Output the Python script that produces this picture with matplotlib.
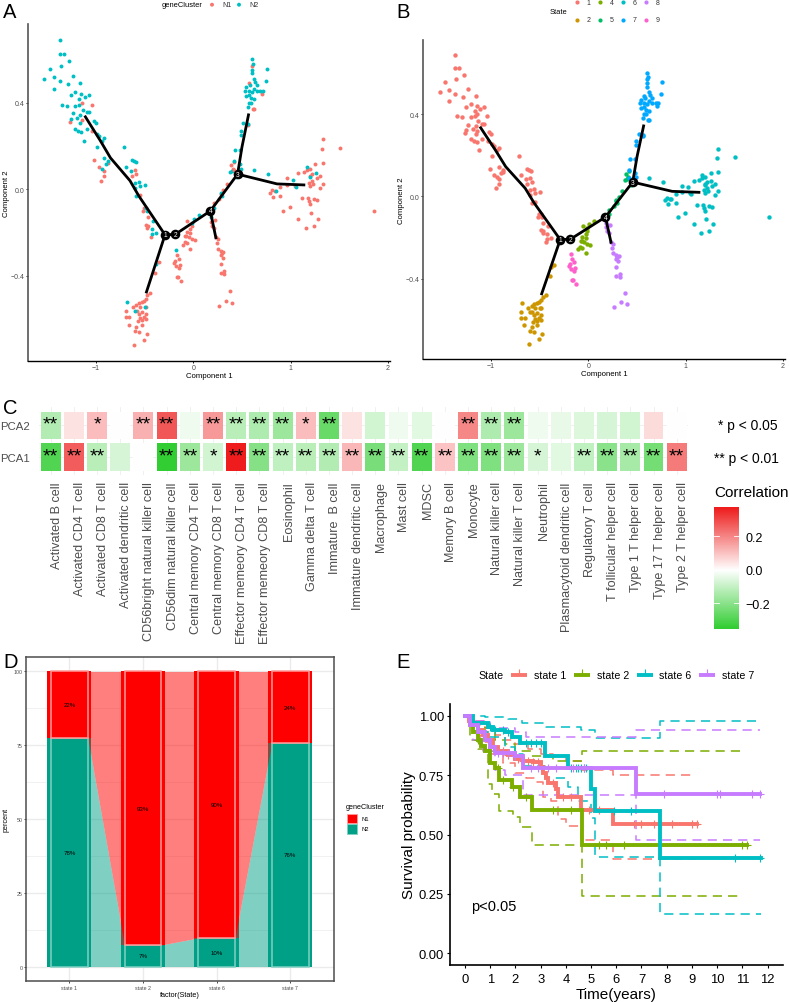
import numpy as np
import matplotlib
matplotlib.use("Agg")
import matplotlib.pyplot as plt
from matplotlib.colors import LinearSegmentedColormap, TwoSlopeNorm

plt.rcParams["font.family"] = ["Liberation Sans", "DejaVu Sans"]

W, H = 790, 1003

# ---- trajectory cells, (component 1, component 2), split by state and gene cluster
state1_n1 = [(-1.27,.31),(-1.14,.40),(-1.04,.39),(-1.14,.32),(-1.035,.27),(-1.015,.135),(-.97,.105),(-.875,.12),
             (-.915,.085),(-.92,.06),(-.95,.04),(-.60,.09),(-.63,.06),(-.585,.07),(-.545,-.025),(-.52,-.10),
             (-.465,-.13),(-.49,-.165),(-.465,-.17),(-.435,-.22),(-.51,-.085),(-.47,-.18)]
state1_n2 = [(-1.37,.69),(-1.37,.625),(-1.33,.625),(-1.28,.59),(-1.36,.57),(-1.47,.555),(-1.53,.51),(-1.43,.52),
             (-1.37,.50),(-1.24,.525),(-1.29,.485),(-1.43,.465),(-1.16,.49),(-1.21,.45),(-1.26,.435),(-1.17,.415),
             (-1.15,.44),(-1.11,.425),(-1.07,.435),(-1.35,.39),(-1.30,.385),(-1.21,.385),(-1.17,.39),(-1.13,.365),
             (-1.24,.35),(-1.16,.345),(-1.09,.355),(-1.07,.355),(-1.26,.325),(-1.19,.33),(-1.02,.315),(-1.0,.305),
             (-1.21,.28),(-1.16,.305),(-1.18,.27),(-1.15,.265),(-1.09,.28),(-1.12,.225),(-.99,.255),(-.97,.245),
             (-.92,.235),(-.94,.225),(-.99,.195),(-.71,.195),(-.92,.145),(-.88,.13),(-.90,.115),(-.94,.095),
             (-.69,.105),(-.63,.135),(-.61,.13),(-.59,.125),(-.64,.085),(-.56,.035),(-.60,.03),(-.50,.02),
             (-.545,.015),(-.60,.005),(-.585,-.03),(-.49,-.085),(-.475,-.10),(-.415,-.145),(-.425,-.185),
             (-.38,-.20),(-.425,-.205)]
state2_n1 = [(-.355,-.335),(-.39,-.385),(-.44,-.48),(-.47,-.49),(-.49,-.505),(-.51,-.515),(-.53,-.52),(-.56,-.525),
             (-.585,-.535),(-.49,-.545),(-.55,-.545),(-.62,-.545),(-.69,-.56),(-.58,-.56),(-.53,-.565),(-.49,-.575),
             (-.56,-.575),(-.69,-.59),(-.655,-.59),(-.51,-.59),(-.545,-.595),(-.485,-.60),(-.53,-.605),(-.57,-.61),
             (-.665,-.625),(-.53,-.625),(-.585,-.635),(-.60,-.655),(-.56,-.66),(-.48,-.67),(-.51,-.695),(-.61,-.72)]
state2_n2 = [(-.685,-.52),(-.60,-.56),(-.50,-.545),(-.385,-.345)]
state4_n1 = [(-.06,-.145),(-.015,-.17),(-.03,-.185),(-.065,-.195),(-.03,-.20),(-.07,-.215),(-.045,-.22),(-.015,-.23),
             (.02,-.235),(-.09,-.245),(-.065,-.25),(-.105,-.255),(-.03,-.275),(-.08,-.215)]
state4_n2 = [(.01,-.135),(.055,-.12),(-.015,-.155)]
state5_n1 = [(.345,.025),(.31,-.002),(.285,-.02),(.26,-.045),(.21,-.065),(.385,.11),(.415,.125),(.405,.095)]
state5_n2 = [(.38,.08),(.40,.085),(.295,-.03),(.21,-.085),(.28,-.015),(.44,.055)]
state6_n1 = [(1.33,.23),(1.505,.19),(1.325,.185),(1.255,.115),(1.33,.12),(1.17,.09),(1.2,.095),(1.08,.075),(1.14,.08),
             (1.22,.07),(1.305,.06),(1.27,.05),(.96,.05),(1.2,.06),(1.22,.04),(1.185,.03),(1.23,.025),(1.2,.015),
             (1.33,.025),(1.305,.005),(.96,.02),(.895,.01),(1.04,.015),(.81,-.005),(.84,-.01),(.79,-.015),(.82,-.035),
             (.895,-.03),(1.115,-.04),(1.175,-.04),(1.24,-.045),(1.27,-.05),(1.185,-.055),(1.2,-.07),(.99,-.08),
             (.92,-.10),(1.21,-.11),(1.08,-.135),(1.285,-.135),(1.235,-.17),(1.16,-.18),(1.86,-.10)]
state6_n2 = [(.625,.09),(.765,.07),(1.17,.105),(1.02,.045),(1.2,.055),(1.26,.075),(1.055,.01),(.85,-.01)]
state7_n1 = [(.60,.57),(.57,.49),(.705,.44),(.615,.37),(.625,.37),(.56,.295),(.415,.09)]
state7_n2 = [(.60,.60),(.615,.58),(.60,.55),(.60,.535),(.755,.555),(.62,.51),(.635,.495),(.75,.50),(.58,.48),(.655,.48),
             (.62,.465),(.54,.47),(.535,.455),(.57,.455),(.60,.45),(.655,.455),(.69,.455),(.715,.455),(.575,.435),
             (.545,.43),(.595,.42),(.62,.415),(.57,.40),(.595,.40),(.565,.38),(.515,.305),(.56,.30),(.485,.27),
             (.485,.25),(.43,.18),(.475,.18),(.42,.13),(.475,.115),(.485,.095)]
state8_n1 = [(.18,-.15),(.225,-.14),(.19,-.17),(.21,-.18),(.235,-.22),(.25,-.23),(.245,-.25),(.25,-.275),(.28,-.285),
             (.295,-.295),(.31,-.29),(.28,-.305),(.305,-.315),(.285,-.345),(.28,-.385),(.32,-.375),(.32,-.39),
             (.38,-.47),(.335,-.515),(.40,-.525),(.265,-.54)]
state8_n2 = [(.18,-.13)]
state9_n1 = [(-.17,-.305),(-.15,-.32),(-.185,-.33),(-.195,-.34),(-.135,-.35),(-.175,-.355),(-.15,-.365),(-.17,-.405),
             (-.16,-.405),(-.125,-.425)]
state9_n2 = [(-.18,-.28)]

states = ["1", "2", "4", "5", "6", "7", "8", "9"]
state_colors = ["#F8766D", "#CD9600", "#7CAE00", "#00BE67", "#00BFC4", "#00A9FF", "#C77CFF", "#FF61CC"]
n1_cells = [state1_n1, state2_n1, state4_n1, state5_n1, state6_n1, state7_n1, state8_n1, state9_n1]
n2_cells = [state1_n2, state2_n2, state4_n2, state5_n2, state6_n2, state7_n2, state8_n2, state9_n2]

# trajectory backbone
branches = [
    [(-1.115,.34),(-.955,.225),(-.85,.145),(-.65,.04),(-.56,-.03),(-.29,-.21)],
    [(-.29,-.21),(-.485,-.48)],
    [(-.29,-.21),(-.185,-.208),(.175,-.10),(.455,.07),(.5,.195),(.57,.35)],
    [(.455,.07),(.86,.025),(1.15,.02)],
    [(.175,-.10),(.235,-.23)],
]
node_labels = ["1", "2", "3", "4"]
node_x = [-.29, -.185, .455, .175]
node_y = [-.21, -.208, .07, -.10]

# ---- heatmap
cells = ["Activated B cell", "Activated CD4 T cell", "Activated CD8 T cell", "Activated dendritic cell",
         "CD56bright natural killer cell", "CD56dim natural killer cell", "Central memory CD4 T cell",
         "Central memory CD8 T cell", "Effector memeory CD4 T cell", "Effector memeory CD8 T cell", "Eosinophil",
         "Gamma delta T cell", "Immature  B cell", "Immature dendritic cell", "Macrophage", "Mast cell", "MDSC",
         "Memory B cell", "Monocyte", "Natural killer cell", "Natural killer T cell", "Neutrophil",
         "Plasmacytoid dendritic cell", "Regulatory T cell", "T follicular helper cell", "Type 1 T helper cell",
         "Type 17 T helper cell", "Type 2 T helper cell"]
pca1 = [-.30, .27, -.12, -.07, 0, -.354, -.17, -.08, .378, -.21, -.11, -.12, -.13, .12, -.23, -.10, -.30, .10,
        -.22, -.22, -.17, -.07, -.05, -.11, -.20, -.15, -.24, .22]
pca2 = [-.13, .05, .11, 0, .13, .28, -.03, .17, -.12, -.14, -.17, .11, -.26, .05, -.08, -.025, -.05, 0,
        .20, -.14, -.17, -.03, -.04, -.06, -.07, -.08, .06, 0]
pca1_stars = ["**","**","**","","","**","**","*","**","**","**","**","**","**","**","**","**","**","**","**","**",
              "*","","**","**","**","**","**"]
pca2_stars = ["**","","*","","**","**","","**","**","**","**","*","**","","","","","","**","**","**","","","","","",
              "",""]

# ---- stacked bars
bar_states = ["state 1", "state 2", "state 6", "state 7"]
n2_pct = [77.4, 7.3, 9.7, 75.7]
n1_labels = ["22%", "93%", "90%", "24%"]
n2_labels = ["78%", "7%", "10%", "76%"]

# ---- survival curves, step times and survival after each step
s1_t = [0,.15,.3,.5,.7,.9,1.1,1.3,1.7,2.0,2.3,2.7,3.0,3.1,3.2,3.3,3.6,3.7,4.6,5.85,9.2]
s1_s = [1,.98,.96,.94,.92,.90,.87,.85,.835,.82,.81,.805,.785,.76,.74,.715,.69,.66,.605,.545,.545]
s1_up_t = [0,.4,.8,1.2,1.6,2,2.5,3,3.5,4,4.6,5.85,9.15]
s1_up_s = [1,.98,.95,.92,.90,.88,.86,.84,.83,.81,.77,.75,.75]
s1_lo_t = [0,.3,.6,1,1.5,2,2.4,2.8,3.1,3.4,3.7,4.0,4.6,5.85,9.15]
s1_lo_s = [1,.92,.89,.84,.80,.76,.74,.72,.66,.64,.565,.535,.475,.395,.395]
s1_cens = [.5,.7,.9,1.1,1.3,1.5,1.7,1.9,2.1,2.3,2.5,2.7,2.9,3.0,3.5,3.9,4.2,4.9,5.3,6.7,7.0,7.5,8.2,9.0,9.2]

s2_t = [0,.2,.3,.5,.65,.8,1.0,1.2,1.35,1.85,2.2,2.65,4.65,11.2]
s2_s = [1,.96,.93,.90,.875,.85,.80,.78,.73,.70,.66,.605,.455,.455]
s2_up_t = [0,.4,.8,1.2,1.6,2,2.6,3.5,4.65,10.9]
s2_up_s = [1,.96,.93,.90,.88,.85,.83,.81,.85,.85]
s2_lo_t = [0,.2,.5,.93,1.07,1.35,1.9,2.2,2.67,4.65,10.9]
s2_lo_s = [1,.90,.86,.713,.67,.60,.573,.53,.455,.24,.24]
s2_cens = [.5,.9,1.3,1.5,1.9,2.4,3.5,4.2,5.3,5.6,6.3,11.0,11.2]

s6_t = [0,.3,.9,1.1,1.6,1.85,2.2,3.17,4.1,5.0,5.15,7.75,11.75]
s6_s = [1,.97,.955,.94,.93,.91,.885,.83,.78,.69,.60,.40,.40]
s6_up_t = [0,.8,1.7,2.25,3.2,4.6,5.15,7.75,11.7]
s6_up_s = [1,.995,.985,.97,.955,.94,.905,.98,.98]
s6_lo_t = [0,.3,.9,1.6,2.0,2.3,3.17,4.1,4.5,5.0,5.15,7.75,11.75]
s6_lo_s = [1,.93,.91,.87,.84,.79,.74,.70,.64,.57,.405,.165,.165]
s6_cens = [1.0,1.2,1.5,1.7,2.4,2.6,2.8,3.0,4.2,4.4,4.5,4.6,4.7,4.8,5.9,6.6,10.7,11.7]

s7_t = [0,.2,.5,.8,1.0,1.2,2.0,2.3,6.8,11.7]
s7_s = [1,.96,.93,.90,.87,.845,.83,.78,.67,.67]
s7_up_t = [0,.4,1,2,2.4,6.8,11.7]
s7_up_s = [1,.98,.95,.93,.91,.94,.94]
s7_lo_t = [0,.3,.7,1.2,1.6,2.3,6.8,11.7]
s7_lo_s = [1,.90,.85,.77,.75,.665,.475,.475]
s7_cens = [1.3,1.5,1.7,2.0,2.6,2.9,3.3,3.6,4.3,4.7,7.9,10,10.1,11.4,11.7]

surv_names = ["state 1", "state 2", "state 6", "state 7"]
surv_colors = ["#F8766D", "#7CAE00", "#00BFC4", "#C77CFF"]


def px_axes(fig, left, top, right, bottom):
    return fig.add_axes([left / W, 1 - bottom / H, (right - left) / W, (bottom - top) / H])


fig = plt.figure(figsize=(W / 100, H / 100), dpi=100)

# overlay in pixels, used for panel letters and hand-placed legends
ov = fig.add_axes([0, 0, 1, 1], zorder=10)
ov.set_xlim(0, W)
ov.set_ylim(H, 0)
ov.axis("off")


def traj_panel(fig, box, yticks, color_fn, size):
    ax = px_axes(fig, *box)
    for i in range(len(states)):
        for cluster, pts in enumerate((n1_cells[i], n2_cells[i])):
            if pts:
                xy = np.array(pts)
                ax.scatter(xy[:, 0], xy[:, 1], s=size, color=color_fn(i, cluster), lw=0, zorder=2)
    for b in branches:
        xy = np.array(b)
        ax.plot(xy[:, 0], xy[:, 1], color="black", lw=2.0, solid_capstyle="butt", zorder=3)
    ax.scatter(node_x, node_y, s=48, color="black", zorder=4, lw=0)
    for t, x, y in zip(node_labels, node_x, node_y):
        ax.text(x, y, t, color="white", fontsize=4.8, ha="center", va="center", zorder=5)
    ax.set_xlim(-1.70, 2.02)
    ax.set_ylim(-.791, .763)
    ax.set_xticks([-1, 0, 1, 2], ["\u22121", "0", "1", "2"])
    ax.set_yticks(yticks, ["\u22120.4", "0.0", "0.4"])
    ax.tick_params(labelsize=5, labelcolor="#4D4D4D", length=1.5, width=.6, pad=1)
    ax.spines[["top", "right"]].set_visible(False)
    ax.spines["left"].set_color("#555555")
    ax.spines["left"].set_linewidth(1.2)
    ax.spines["bottom"].set_linewidth(1.0)
    ax.set_xlabel("Component 1", fontsize=5.6, labelpad=.5)
    ax.set_ylabel("Component 2", fontsize=5.6)
    ax.yaxis.set_label_coords(-.05, .5)
    return ax


# ---- A
traj_panel(fig, (27.7, 25, 390, 361.7), [-.4, 0, .4], lambda i, c: ["#F8766D", "#00BFC4"][c], 8)
ov.text(162, 5.7, "geneCluster", fontsize=5.4, ha="left", va="center")
ov.scatter([212, 239], [5.7, 5.7], s=8, color=["#F8766D", "#00BFC4"], lw=0)
ov.text(222, 5.7, "N1", fontsize=5, color="#333333", va="center")
ov.text(249, 5.7, "N2", fontsize=5, color="#333333", va="center")

# ---- B
traj_panel(fig, (423, 40.7, 785, 360), [-.4, 0, .4], lambda i, c: state_colors[i], 10)
ov.text(550, 12.3, "State", fontsize=5.4, va="center")
key_x = [577, 600, 623, 646]
key_y = [3.3, 20.7]
for i, (s, c) in enumerate(zip(states, state_colors)):
    cx = key_x[i // 2]
    cy = key_y[i % 2]
    ov.scatter([cx], [cy], s=9, color=c, lw=0)
    ov.text(cx + 11.5, cy, s, fontsize=5, ha="center", va="center", color="#333333")

# ---- C
hm_cmap = LinearSegmentedColormap.from_list("corr", ["#32CD32", "#FFFFFF", "#EE1C1C"])
hm_norm = TwoSlopeNorm(vmin=-.354, vcenter=0, vmax=.378)
ax = px_axes(fig, 39.1, 408, 688.3, 476)
xs = np.arange(len(cells))
ax.set_axisbelow(True)
ax.grid(color="#EEEEEE", lw=.6)
ax.bar(xs, .875, bottom=-.4375, width=.86, color=hm_cmap(hm_norm(pca1)), lw=0, zorder=2)
ax.bar(xs, .875, bottom=.5625, width=.86, color=hm_cmap(hm_norm(pca2)), lw=0, zorder=2)
for row, stars in enumerate((pca1_stars, pca2_stars)):
    for x, s in zip(xs, stars):
        if s:
            ax.text(x, row + .03, s, fontsize=14, ha="center", va="center", zorder=3)
ax.set_xlim(-.5, len(cells) - .5)
ax.set_ylim(-.58, 1.586)
ax.set_xticks(xs, cells, rotation=90, ha="left", va="top", rotation_mode="default")
ax.set_yticks([0, 1], ["PCA1", "PCA2"])
ax.tick_params(axis="x", labelsize=9.1, labelcolor="#4D4D4D", length=0, pad=4.5)
ax.tick_params(axis="y", labelsize=8.2, labelcolor="#4D4D4D", length=0, pad=7)
ax.spines[:].set_visible(False)

ov.text(718, 425.7, "* p < 0.05", fontsize=10, va="center")
ov.text(714, 459, "** p < 0.01", fontsize=10, va="center")
ov.text(714, 493, "Correlation", fontsize=11, va="center")
cax = px_axes(fig, 714, 507.7, 738.7, 629.7)
grad = np.linspace(-.354, .378, 200).reshape(-1, 1)
cax.imshow(grad, aspect="auto", origin="lower", cmap=hm_cmap, norm=hm_norm, extent=[0, 1, -.354, .378])
cax.set_xticks([])
cax.yaxis.tick_right()
cax.set_yticks([-.2, 0, .2], ["\u22120.2", "0.0", "0.2"])
cax.tick_params(axis="y", labelsize=9, length=0, pad=5)
for v in (-.2, 0, .2):
    cax.plot([0, .2], [v, v], color="white", lw=.6)
    cax.plot([.8, 1], [v, v], color="white", lw=.6)
cax.set_xlim(0, 1)
cax.set_ylim(-.354, .378)
cax.spines[:].set_visible(False)

# ---- D
RED, TEAL = "#FF0000", "#00A087"
ax = px_axes(fig, 26, 657.7, 334.3, 982.3)
pos = np.arange(1, 5)
n2 = np.array(n2_pct)
ax.set_axisbelow(True)
ax.set_yticks([12.5, 37.5, 62.5, 87.5], minor=True)
ax.grid(which="major", color="#EBEBEB", lw=1.0)
ax.grid(which="minor", axis="y", color="#EBEBEB", lw=.5)
ax.bar(pos, n2, width=.6, color=TEAL, lw=0, zorder=2)
ax.bar(pos, 100 - n2, bottom=n2, width=.6, color=RED, lw=0, zorder=2)
for i in range(3):
    fx = [pos[i] + .25, pos[i + 1] - .25]
    ax.fill_between(fx, [0, 0], n2[i:i + 2], color=TEAL, alpha=.5, lw=0, zorder=3)
    ax.fill_between(fx, n2[i:i + 2], [100, 100], color=RED, alpha=.5, lw=0, zorder=3)
ax.bar(pos, n2, width=.5, color=TEAL, edgecolor="#7FD0C3", lw=1.1, zorder=4)
ax.bar(pos, 100 - n2, bottom=n2, width=.5, color=RED, edgecolor="#FF9A9A", lw=1.1, zorder=4)
for x, v, a, b in zip(pos, n2, n1_labels, n2_labels):
    ax.text(x, v + (100 - v) / 2, a, fontsize=4.4, ha="center", va="center", zorder=5)
    ax.text(x, v / 2, b, fontsize=4.4, ha="center", va="center", zorder=5)
ax.set_xlim(.41, 4.6)
ax.set_ylim(-5, 105)
ax.set_xticks(pos, bar_states)
ax.set_yticks([0, 25, 50, 75, 100])
ax.tick_params(which="major", labelsize=3.8, labelcolor="#4D4D4D", length=1.5, width=.5, pad=1)
ax.tick_params(which="minor", length=0)
ax.spines[:].set_color("#4D4D4D")
ax.spines[:].set_linewidth(1.1)
ax.set_xlabel("factor(State)", fontsize=5.2, labelpad=1)
ax.set_ylabel("percent", fontsize=5.2)
ax.yaxis.set_label_coords(-.052, .5)
ov.text(346, 808, "geneCluster", fontsize=5.2, va="center")
ov.add_patch(plt.Rectangle((347, 815), 10, 9.3, fc=RED, ec="#FF9A9A", lw=.6))
ov.add_patch(plt.Rectangle((347, 825.3), 10, 9.3, fc=TEAL, ec="#7FD0C3", lw=.6))
ov.text(362, 819.6, "N1", fontsize=4.2, va="center")
ov.text(362, 830, "N2", fontsize=4.2, va="center")

# ---- E
ax = px_axes(fig, 450.3, 705, 782.7, 966)
curves = [(s1_t, s1_s, s1_up_t, s1_up_s, s1_lo_t, s1_lo_s, s1_cens),
          (s2_t, s2_s, s2_up_t, s2_up_s, s2_lo_t, s2_lo_s, s2_cens),
          (s6_t, s6_s, s6_up_t, s6_up_s, s6_lo_t, s6_lo_s, s6_cens),
          (s7_t, s7_s, s7_up_t, s7_up_s, s7_lo_t, s7_lo_s, s7_cens)]
for (t, s, ut, us, lt, ls, cens), c in zip(curves, surv_colors):
    ax.step(ut, us, where="post", color=c, lw=1.1, dashes=(6, 4), zorder=2)
    ax.step(lt, ls, where="post", color=c, lw=1.1, dashes=(6, 4), zorder=2)
for (t, s, ut, us, lt, ls, cens), c in zip(curves, surv_colors):
    ax.step(t, s, where="post", color=c, lw=2.8, solid_joinstyle="miter", zorder=3)
    idx = np.searchsorted(t, cens, side="right") - 1
    ax.plot(cens, np.array(s)[idx], ls="none", marker="+", ms=6, mew=.8, color=c, zorder=3)
ax.text(.25, .197, "p<0.05", fontsize=10.5, ha="left", va="center")
ax.set_xlim(-.583, 12.6)
ax.set_ylim(-.05, 1.05)
ax.set_xticks(range(13))
ax.set_yticks([0, .25, .5, .75, 1], ["0.00", "0.25", "0.50", "0.75", "1.00"])
ax.tick_params(labelsize=9.4, length=2.5, width=.8, pad=2)
ax.tick_params(axis="x", pad=3.5)
ax.spines[["top", "right"]].set_visible(False)
ax.spines[["left", "bottom"]].set_linewidth(1.2)
ax.set_xlabel("Time(years)", fontsize=11, labelpad=1)
ax.set_ylabel("Survival probability", fontsize=11, labelpad=2)

ov.text(478, 676, "State", fontsize=7.7, va="center")
legend_key_x = [511, 574, 636.7, 699]
legend_txt_x = [534, 596.7, 659, 722]
for name, c, kx, tx in zip(surv_names, surv_colors, legend_key_x, legend_txt_x):
    ov.plot([kx, kx + 16], [676, 676], color=c, lw=2.8, solid_capstyle="butt")
    ov.plot([kx + 8], [673], marker="|", ms=4, mew=.8, color=c)
    ov.text(tx, 676, name, fontsize=7.7, va="center")

# panel letters
for letter, x, y in [("A", 3, 12), ("B", 396, 12), ("C", 3, 408), ("D", 3, 663), ("E", 396, 663)]:
    ov.text(x, y, letter, fontsize=14.5, ha="left", va="center")
ov.set_xlim(0, W)
ov.set_ylim(H, 0)

fig.savefig("out.png", dpi=100)
